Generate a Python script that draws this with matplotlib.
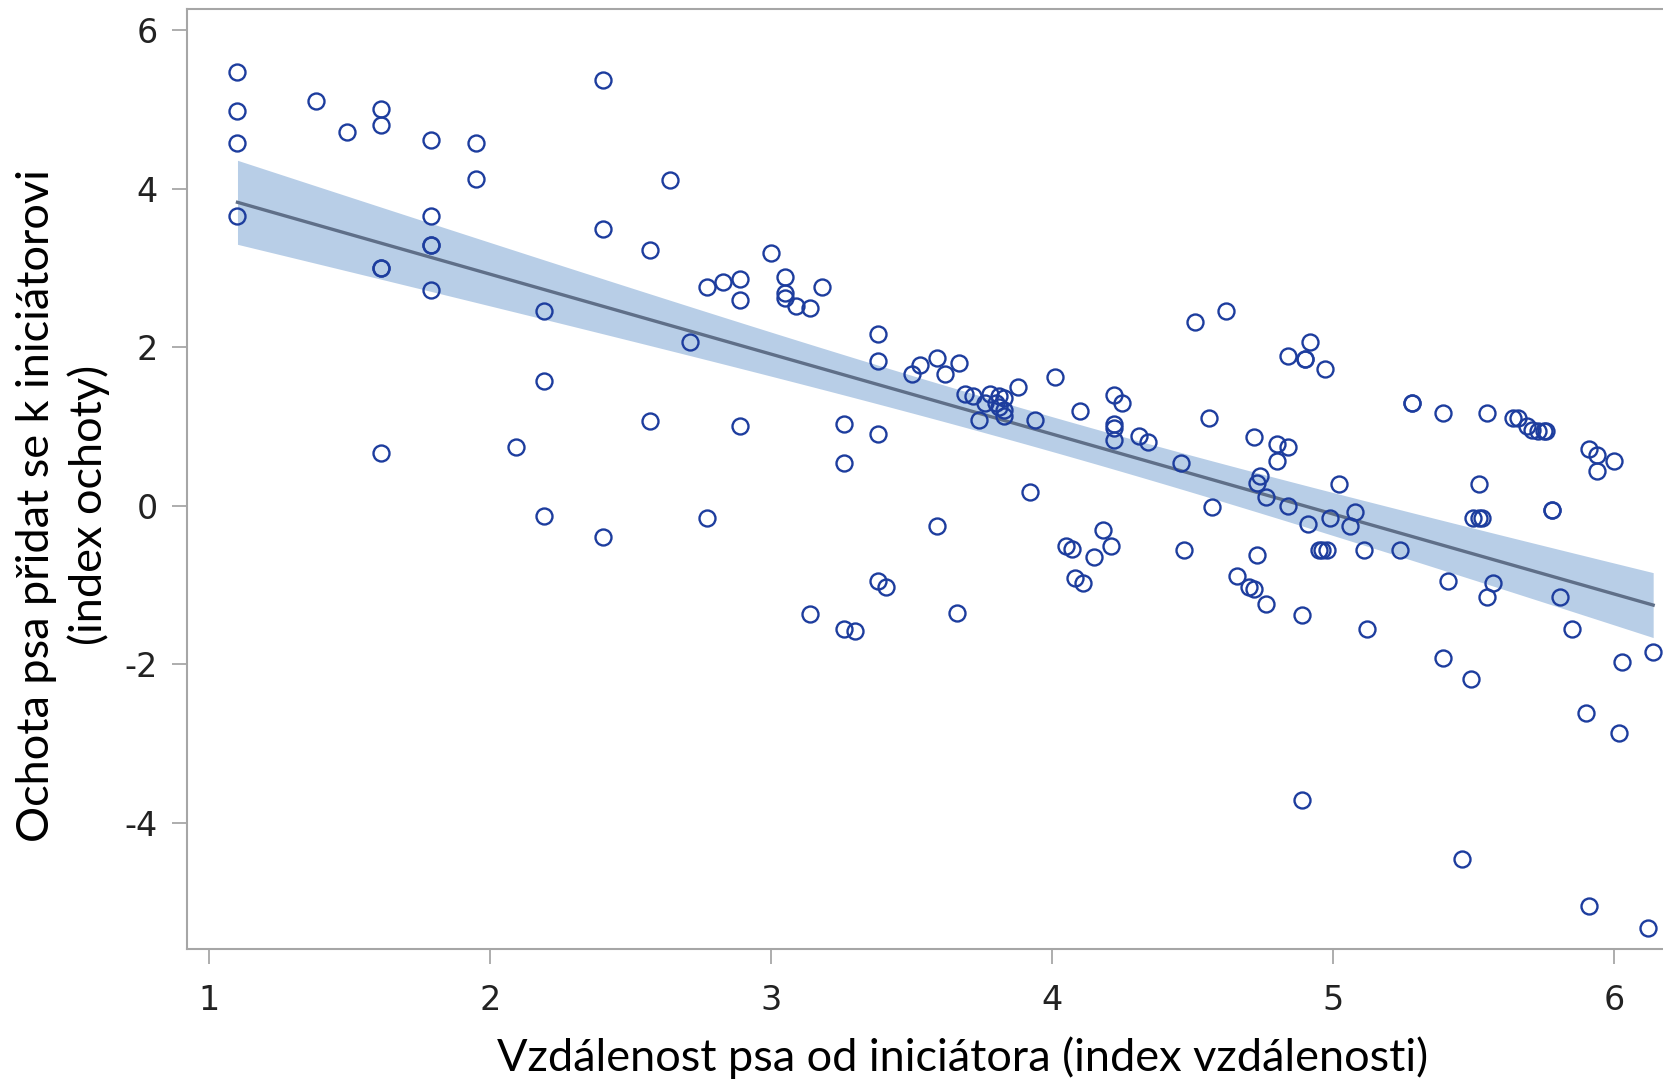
'''
Willingness of the dog to join the initiator vs. distance from the initiator
scatter with linear fit and 95% confidence band
'''

import numpy as np
import matplotlib
matplotlib.use('Agg')
import matplotlib.pyplot as plt

plt.rcParams['axes.unicode_minus'] = False  # plain hyphen for negative ticks

# distance index (x) and willingness index (y)
DISTANCE = [1.10, 1.10, 1.10, 1.10, 1.38, 1.49, 1.61, 1.61, 1.61, 1.61,
            1.61, 1.79, 1.79, 1.79, 1.79, 1.79, 1.95, 1.95, 2.09, 2.19,
            2.19, 2.19, 2.40, 2.40, 2.40, 2.57, 2.57, 2.64, 2.71, 2.77,
            2.77, 2.83, 2.89, 2.89, 2.89, 3.00, 3.05, 3.05, 3.05, 3.09,
            3.14, 3.18, 3.14, 3.26, 3.26, 3.26, 3.30, 3.38, 3.38, 3.38,
            3.38, 3.41, 3.50, 3.53, 3.59, 3.59, 3.62, 3.67, 3.66, 3.69,
            3.72, 3.74, 3.76, 3.78, 3.80, 3.81, 3.81, 3.83, 3.83, 3.83,
            3.88, 3.92, 3.94, 4.01, 4.05, 4.07, 4.08, 4.10, 4.11, 4.15,
            4.18, 4.21, 4.22, 4.22, 4.22, 4.22, 4.25, 4.31, 4.34, 4.46,
            4.47, 4.51, 4.56, 4.57, 4.62, 4.66, 4.70, 4.72, 4.72, 4.73,
            4.74, 4.73, 4.76, 4.76, 4.80, 4.80, 4.84, 4.84, 4.84, 4.90,
            4.90, 4.92, 4.97, 4.89, 4.89, 4.91, 4.95, 4.96, 4.98, 4.99,
            5.02, 5.06, 5.08, 5.11, 5.12, 5.24, 5.28, 5.28, 5.39, 5.39,
            5.41, 5.46, 5.49, 5.50, 5.52, 5.53, 5.52, 5.55, 5.55, 5.57,
            5.64, 5.66, 5.69, 5.71, 5.73, 5.75, 5.76, 5.78, 5.78, 5.81,
            5.85, 5.90, 5.91, 5.91, 5.94, 5.94, 6.00, 6.02, 6.03, 6.12,
            6.14]
WILLINGNESS = [5.47, 4.98, 4.58, 3.65, 5.11, 4.71, 5.01, 4.80, 3.00, 3.00,
               0.67, 4.61, 3.65, 3.29, 3.29, 2.72, 4.58, 4.12, 0.74, 2.46,
               1.57, -0.13, 5.37, 3.49, -0.39, 3.23, 1.07, 4.11, 2.06, 2.76,
               -0.16, 2.82, 2.86, 2.59, 1.00, 3.19, 2.89, 2.68, 2.62, 2.52,
               2.49, 2.76, -1.37, 1.03, 0.54, -1.55, -1.58, 2.16, 1.83, 0.90,
               -0.95, -1.02, 1.66, 1.77, 1.86, -0.26, 1.66, 1.80, -1.35, 1.41,
               1.39, 1.08, 1.29, 1.41, 1.29, 1.38, 1.25, 1.36, 1.21, 1.13,
               1.50, 0.17, 1.08, 1.63, -0.51, -0.55, -0.91, 1.20, -0.98, -0.65,
               -0.31, -0.51, 1.40, 1.03, 0.98, 0.83, 1.29, 0.88, 0.81, 0.54,
               -0.56, 2.32, 1.11, -0.02, 2.46, -0.89, -1.02, -1.05, 0.87, -0.62,
               0.38, 0.29, -1.24, 0.11, 0.78, 0.57, 1.89, 0.74, 0.00, 1.85,
               1.85, 2.07, 1.73, -1.38, -3.71, -0.23, -0.56, -0.56, -0.56, -0.16,
               0.27, -0.25, -0.08, -0.56, -1.55, -0.56, 1.30, 1.30, 1.17, -1.92,
               -0.95, -4.46, -2.18, -0.16, -0.16, -0.16, 0.27, 1.17, -1.15, -0.98,
               1.11, 1.11, 1.00, 0.96, 0.94, 0.94, 0.94, -0.05, -0.05, -1.15,
               -1.55, -2.61, 0.71, -5.05, 0.44, 0.64, 0.57, -2.87, -1.97, -5.32,
               -1.85]

X_TICKS = [1, 2, 3, 4, 5, 6]
Y_TICKS = [-4, -2, 0, 2, 4, 6]
T_975 = 1.975  # two-sided 95% t value for ~160 df

X_LABEL = 'Vzdálenost psa od iniciátora (index vzdálenosti)'
Y_LABEL = 'Ochota psa přidat se k iniciátorovi\n(index ochoty)'


def fit_with_band(x, y, x_eval):
  '''
  Least squares line and 95% confidence band of the mean
  '''
  coeffs = np.polyfit(x, y, 1)
  resid = y - np.polyval(coeffs, x)
  n = len(x)
  s = np.sqrt(np.sum(resid**2)/(n-2))
  sxx = np.sum((x - x.mean())**2)
  half = T_975*s*np.sqrt(1/n + (x_eval - x.mean())**2/sxx)
  fit = np.polyval(coeffs, x_eval)
  return fit, fit-half, fit+half


x = np.array(DISTANCE)
y = np.array(WILLINGNESS)
x_line = np.linspace(x.min(), x.max(), 200)
fit, lower, upper = fit_with_band(x, y, x_line)

fig = plt.figure(figsize=(16.63, 10.83), dpi=100)
ax = fig.add_axes([0.1124, 0.1237, 0.8876, 0.868])

ax.fill_between(x_line, lower, upper, color='#b8cee7', lw=0, zorder=1)
ax.plot(x_line, fit, color='#5f6f88', lw=2.4, zorder=2)
ax.plot(x, y, 'o', mfc='none', mec='#1d3d9e', mew=1.7, ms=11.5, ls='none', zorder=3)

ax.set_xlim(0.92, 6.175)
ax.set_ylim(-5.59, 6.265)
ax.set_xticks(X_TICKS)
ax.set_yticks(Y_TICKS)

tick_font = ['Liberation Sans Narrow', 'DejaVu Sans Condensed', 'DejaVu Sans']
ax.tick_params(axis='both', length=11, width=1.2, color='#a0a0a0',
               labelcolor='#222222', labelsize=24, labelfontfamily=tick_font)
ax.tick_params(axis='x', pad=14)
ax.tick_params(axis='y', pad=10)

for side in ['left', 'bottom', 'top']:
  ax.spines[side].set_color('#a6a6a6')
  ax.spines[side].set_linewidth(1.5)
ax.spines['right'].set_visible(False)

ax.set_xlabel(X_LABEL, family=['Lato', 'DejaVu Sans'], fontsize=32.5, labelpad=14)
ax.set_ylabel(Y_LABEL, family=['Lato', 'DejaVu Sans'], fontsize=32.5, labelpad=10, linespacing=1.3)
# the original plot area runs on past the right edge, so its labels sit off centre
ax.xaxis.label.set_x(0.5255)
ax.yaxis.label.set_y(0.472)

fig.savefig('out.png', dpi=100)
